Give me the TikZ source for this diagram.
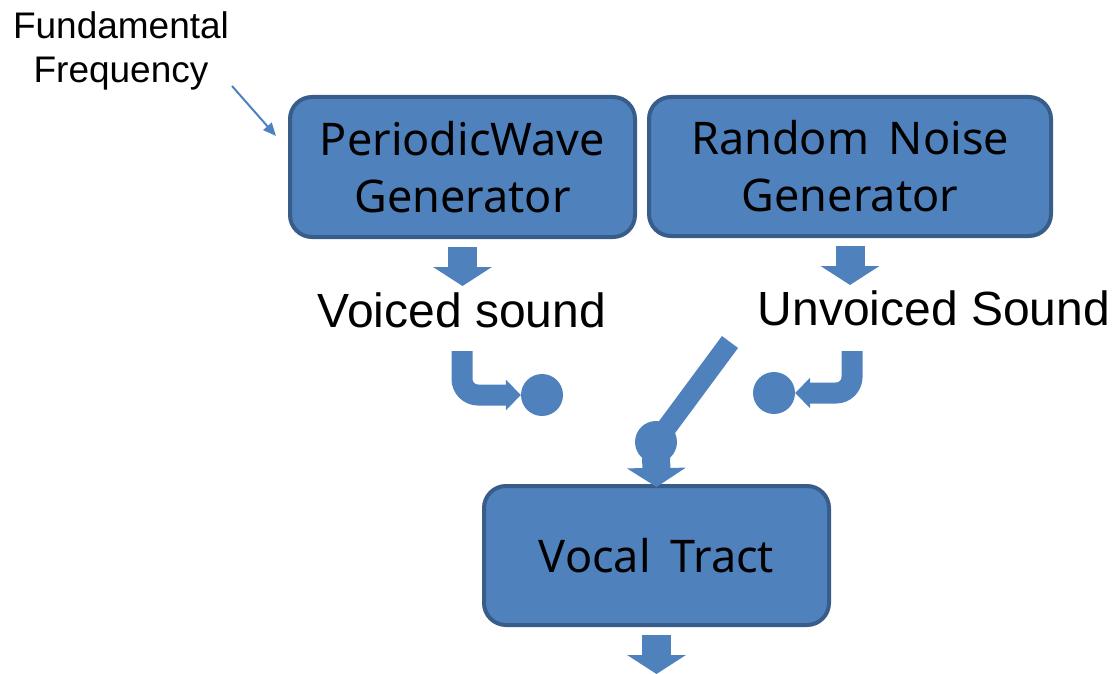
\documentclass[tikz,border=0pt]{standalone}
\usepackage{fontspec}
\setmainfont{Liberation Sans}
\newfontfamily\boxfont[WordSpace=1.7]{Noto Sans}
\usetikzlibrary{arrows.meta,calc}
\definecolor{blockfill}{HTML}{4F81BD}
\definecolor{blockedge}{HTML}{385D8A}
\begin{document}
\begin{tikzpicture}[x=1pt,y=-1pt,
  stage/.style={draw=blockedge, fill=blockfill, line width=4pt, rounded corners=22pt,
    align=center, inner sep=0pt, text=black,
    font=\boxfont\fontsize{45}{57}\selectfont},
  caption/.style={font=\fontsize{48}{56}\selectfont, inner sep=0pt},
  flow/.style={draw=blockfill, line width=29pt, -{Triangle[length=19pt,width=58pt]}},
  elbow/.style={draw=blockfill, line width=21pt, rounded corners=16pt,
    -{Triangle[length=15pt,width=30pt]}},
  contact/.style={circle, fill=blockfill, minimum size=42pt, inner sep=0pt},
  pointer/.style={draw=blockfill, line width=2pt, -{Triangle[length=13pt,width=11pt]}}]
\useasboundingbox (0,0) rectangle (1113,674);

% generator blocks and the vocal tract
\node[stage, minimum width=345pt, minimum height=140pt] (pw) at (462.5,167) {PeriodicWave\\Generator};
\node[stage, minimum width=402pt, minimum height=139pt] (rn) at (850,166.5) {Random Noise\\Generator};
\node[stage, minimum width=345pt, minimum height=139pt] (vt) at (656.5,555.5) {Vocal Tract};

% labels
\node[align=center, inner sep=0pt, font=\fontsize{37}{44}\selectfont] (f0) at (121,51) {Fundamental\\Frequency};
\node[caption, anchor=base] (voiced) at (462,327) {Voiced sound};
\node[caption, anchor=base] (unvoiced) at (934,325) {Unvoiced Sound};

% switch contacts
\node[contact] (cv) at (542,395) {};
\node[contact] (cu) at (774,393) {};

% pitch input
\coordinate (f0end) at (232,86);
\coordinate (pwin) at (276,136);
\draw[pointer] (f0end) -- (pwin);

% outputs of the generators
\draw[flow] ($(pw.south)+(0,8)$) -- ($(pw.south)+(0,47)$);
\draw[flow] ($(rn.south)+(0,8)$) -- ($(rn.south)+(0,47)$);

% sources routed to the contacts
\coordinate (vsrc) at (462,351);
\coordinate (usrc) at (852,351);
\draw[elbow] (vsrc) |- (cv.west);
\draw[elbow] (usrc) |- (cu.east);

% switch lever and its output to the vocal tract
\coordinate (lever) at (730,342);
\coordinate (pivot) at (656,442);
\draw[flow, line width=28pt] (pivot) -- ($(vt.north)+(0,3)$);
\draw[draw=blockfill, line width=20pt] (lever) -- (pivot);
\node[contact] (pv) at (pivot) {};

% output of the vocal tract
\draw[flow] ($(vt.south)+(0,8)$) -- ($(vt.south)+(0,47)$);
\end{tikzpicture}
\end{document}
